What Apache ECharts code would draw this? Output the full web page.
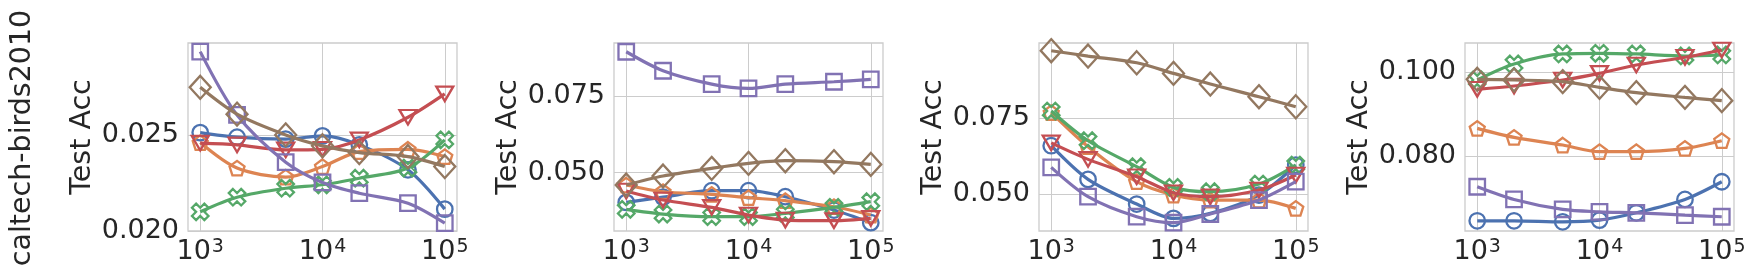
<!DOCTYPE html>
<html>
<head>
<meta charset="utf-8">
<script src="https://cdn.jsdelivr.net/npm/echarts@6/dist/echarts.min.js"></script>
<style>
html,body{margin:0;padding:0;background:#fff;}
#chart{width:1751px;height:275px;}
</style>
</head>
<body>
<div id="chart"></div>
<script>
// ---- data ----
const rowLabel = 'caltech-birds2010';
const yAxisTitle = 'Test Acc';
const sizes = [1000, 2000, 5000, 10000, 20000, 50000, 100000];
const xTickExponents = [3, 4, 5];

// panel 1
const p1_circle   = [0.02512, 0.02488, 0.02478, 0.02495, 0.02448, 0.02318, 0.02113];
const p1_pentagon = [0.02460, 0.02327, 0.02280, 0.02335, 0.02413, 0.02425, 0.02387];
const p1_x        = [0.02099, 0.02175, 0.02222, 0.02240, 0.02274, 0.02327, 0.02474];
const p1_triangle = [0.02457, 0.02448, 0.02422, 0.02425, 0.02474, 0.02592, 0.02714];
const p1_square   = [0.02934, 0.02604, 0.02358, 0.02252, 0.02196, 0.02144, 0.02040];
const p1_diamond  = [0.02748, 0.02608, 0.02500, 0.02443, 0.02408, 0.02387, 0.02335];
const p1_yTicks = [0.020, 0.025];
const p1_yRange = [0.01999, 0.02979];

// panel 2
const p2_circle   = [0.04027, 0.04200, 0.04410, 0.04410, 0.04214, 0.03777, 0.03362];
const p2_pentagon = [0.04596, 0.04377, 0.04290, 0.04181, 0.04083, 0.03886, 0.03613];
const p2_x        = [0.03800, 0.03646, 0.03559, 0.03559, 0.03668, 0.03864, 0.04050];
const p2_triangle = [0.04400, 0.04104, 0.03864, 0.03613, 0.03449, 0.03428, 0.03504];
const p2_square   = [0.08963, 0.08341, 0.07904, 0.07762, 0.07904, 0.07980, 0.08057];
const p2_diamond  = [0.04596, 0.04891, 0.05142, 0.05305, 0.05393, 0.05360, 0.05273];
const p2_yTicks = [0.050, 0.075];
const p2_yRange = [0.0309, 0.0925];

// panel 3
const p3_circle   = [0.06597, 0.05485, 0.04671, 0.04197, 0.04363, 0.04968, 0.05959];
const p3_pentagon = [0.07687, 0.06564, 0.05408, 0.04968, 0.04803, 0.04803, 0.04528];
const p3_x        = [0.07742, 0.06762, 0.05904, 0.05221, 0.05078, 0.05331, 0.05959];
const p3_triangle = [0.06690, 0.06146, 0.05574, 0.05045, 0.04913, 0.05133, 0.05629];
const p3_square   = [0.05882, 0.04913, 0.04253, 0.04054, 0.04341, 0.04803, 0.05408];
const p3_diamond  = [0.09735, 0.09559, 0.09338, 0.08986, 0.08634, 0.08216, 0.07885];
const p3_yTicks = [0.050, 0.075];
const p3_yRange = [0.0378, 0.0999];

// panel 4
const p4_circle   = [0.06454, 0.06454, 0.06430, 0.06470, 0.06645, 0.06964, 0.07386];
const p4_pentagon = [0.08661, 0.08446, 0.08263, 0.08104, 0.08104, 0.08183, 0.08367];
const p4_x        = [0.09817, 0.10199, 0.10438, 0.10454, 0.10438, 0.10390, 0.10414];
const p4_triangle = [0.09594, 0.09673, 0.09817, 0.09976, 0.10175, 0.10359, 0.10534];
const p4_square   = [0.07267, 0.06964, 0.06725, 0.06669, 0.06645, 0.06590, 0.06550];
const p4_diamond  = [0.09833, 0.09817, 0.09777, 0.09641, 0.09514, 0.09402, 0.09323];
const p4_yTicks = [0.080, 0.100];
const p4_yRange = [0.0621, 0.1070];

// ---- styling / layout ----
const FONT = 'DejaVu Sans';
const TEXT = '#262626';
const GRID = '#cccccc';
const colors = {
  circle: '#4C72B0', pentagon: '#DD8452', x: '#55A868',
  triangle: '#C44E52', square: '#8172B3', diamond: '#937860'
};
const PENTA = 'path://M0,-1 L0.9511,-0.309 L0.5878,0.809 L-0.5878,0.809 L-0.9511,-0.309 Z';
const XMARK = 'path://M-0.25,-0.5 L0,-0.25 L0.25,-0.5 L0.5,-0.25 L0.25,0 L0.5,0.25 L0.25,0.5 L0,0.25 L-0.25,0.5 L-0.5,0.25 L-0.25,0 L-0.5,-0.25 Z';
const markers = {
  circle:   {symbol: 'circle', size: 15.5, rotate: 0},
  pentagon: {symbol: PENTA, size: [15, 14.5], rotate: 0},
  x:        {symbol: XMARK, size: [16.5, 16.5], rotate: 0},
  triangle: {symbol: 'triangle', size: [17, 14.5], rotate: 180},
  square:   {symbol: 'rect', size: [15.5, 15.5], rotate: 0},
  diamond:  {symbol: 'diamond', size: [21, 23], rotate: 0}
};
const order = ['circle', 'pentagon', 'x', 'triangle', 'square', 'diamond'];

const panels = [
  {data: {circle: p1_circle, pentagon: p1_pentagon, x: p1_x, triangle: p1_triangle, square: p1_square, diamond: p1_diamond}, yTicks: p1_yTicks, yRange: p1_yRange},
  {data: {circle: p2_circle, pentagon: p2_pentagon, x: p2_x, triangle: p2_triangle, square: p2_square, diamond: p2_diamond}, yTicks: p2_yTicks, yRange: p2_yRange},
  {data: {circle: p3_circle, pentagon: p3_pentagon, x: p3_x, triangle: p3_triangle, square: p3_square, diamond: p3_diamond}, yTicks: p3_yTicks, yRange: p3_yRange},
  {data: {circle: p4_circle, pentagon: p4_pentagon, x: p4_x, triangle: p4_triangle, square: p4_square, diamond: p4_diamond}, yTicks: p4_yTicks, yRange: p4_yRange}
];
const gridLefts = [188, 614, 1039, 1465];
const GRID_W = 269, GRID_TOP = 43, GRID_H = 188;

const xMin = Math.pow(10, 2.9), xMax = Math.pow(10, 5.1);
const xTickValues = xTickExponents.map(e => Math.pow(10, e));

const grids = [], xAxes = [], yAxes = [], series = [];
panels.forEach((p, i) => {
  grids.push({left: gridLefts[i], top: GRID_TOP, width: GRID_W, height: GRID_H,
    show: true, borderColor: GRID, borderWidth: 1.3, backgroundColor: '#fff'});
  xAxes.push({
    type: 'log', gridIndex: i, logBase: 10, min: xMin, max: xMax,
    axisLine: {show: false}, axisTick: {show: false, customValues: xTickValues},
    splitLine: {show: true, lineStyle: {color: GRID, width: 1}},
    minorTick: {show: false}, minorSplitLine: {show: false},
    axisLabel: {
      customValues: xTickValues,
      margin: 7,
      formatter: v => {
        const e = Math.log10(v);
        if (Math.abs(e - Math.round(e)) > 1e-6) return '';
        return '{b|10}{s|' + Math.round(e) + '}';
      },
      rich: {
        b: {fontSize: 27, fontFamily: FONT, color: TEXT},
        s: {fontSize: 19, fontFamily: FONT, color: TEXT, verticalAlign: 'top', padding: [0, 0, 0, 1]}
      }
    }
  });
  yAxes.push({
    type: 'value', gridIndex: i, min: p.yRange[0], max: p.yRange[1],
    name: yAxisTitle, nameLocation: 'middle', nameGap: 91,
    nameTextStyle: {fontSize: 28.5, fontFamily: FONT, color: TEXT},
    axisLine: {show: false}, axisTick: {show: false, customValues: p.yTicks},
    splitLine: {show: true, lineStyle: {color: GRID, width: 1}},
    axisLabel: {
      customValues: p.yTicks, margin: 9,
      fontSize: 27, fontFamily: FONT, color: TEXT,
      formatter: v => v.toFixed(3)
    }
  });
  order.forEach((k, si) => {
    const m = markers[k];
    series.push({
      type: 'line', xAxisIndex: i, yAxisIndex: i, name: k,
      data: sizes.map((s, j) => [s, p.data[k][j]]),
      smooth: 0.3,
      symbol: m.symbol, symbolSize: m.size, symbolRotate: m.rotate,
      showSymbol: true, showAllSymbol: true,
      lineStyle: {color: colors[k], width: 3.2},
      itemStyle: {color: 'rgba(0,0,0,0)', borderColor: colors[k], borderWidth: 2.3},
      z: 2 + si,
      emphasis: {disabled: true},
      animation: false
    });
  });
});

const chart = echarts.init(document.getElementById('chart'), null, {renderer: 'canvas'});
chart.setOption({
  animation: false,
  backgroundColor: '#ffffff',
  grid: grids, xAxis: xAxes, yAxis: yAxes, series: series,
  graphic: [{
    type: 'text', x: 23, y: 138, rotation: Math.PI / 2,
    style: {text: rowLabel, fontSize: 28.5, fontFamily: FONT, fill: TEXT,
      textAlign: 'center', textVerticalAlign: 'middle'}
  }]
});
</script>
</body>
</html>
